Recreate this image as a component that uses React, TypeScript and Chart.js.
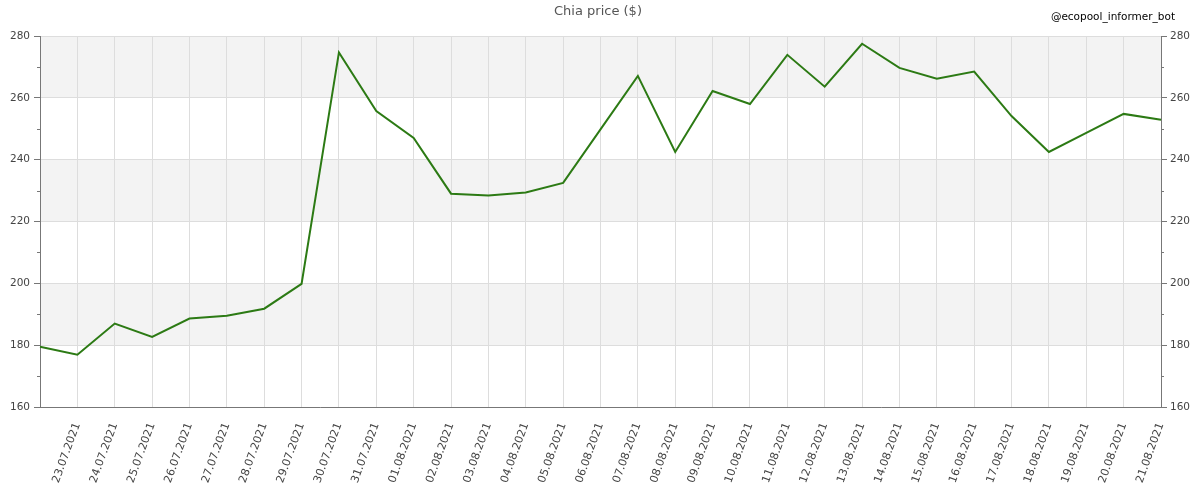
import React, { useEffect, useRef } from "react";
import { Chart, registerables } from "chart.js";

Chart.register(...registerables);

const dateLabels = [
  "22.07.2021", "23.07.2021", "24.07.2021", "25.07.2021", "26.07.2021", "27.07.2021",
  "28.07.2021", "29.07.2021", "30.07.2021", "31.07.2021", "01.08.2021", "02.08.2021",
  "03.08.2021", "04.08.2021", "05.08.2021", "06.08.2021", "07.08.2021", "08.08.2021",
  "09.08.2021", "10.08.2021", "11.08.2021", "12.08.2021", "13.08.2021", "14.08.2021",
  "15.08.2021", "16.08.2021", "17.08.2021", "18.08.2021", "19.08.2021", "20.08.2021",
  "21.08.2021",
];

const chiaPrice = [
  179.5, 176.9, 187.0, 182.7, 188.6, 189.5, 191.8, 199.8, 274.7, 255.7, 247.0, 229.0,
  228.4, 229.4, 232.5, 249.8, 267.1, 242.5, 262.2, 258.0, 273.9, 263.6, 277.5, 269.7,
  266.2, 268.5, 254.1, 242.5, 248.7, 254.8, 252.9,
];

const yMin = 160;
const yMax = 280;
const bandStarts = [180, 220, 260];
const minorTicks = [170, 190, 210, 230, 250, 270];
const chartTitle = "Chia price ($)";
const watermark = "@ecopool_informer_bot";

const FONT = "'DejaVu Sans', Verdana, sans-serif";

export default function App() {
  const ref = useRef<HTMLCanvasElement | null>(null);

  useEffect(() => {
    document.body.style.margin = "0";
    const canvas = ref.current;
    if (!canvas) return;

    const bandsPlugin = {
      id: "bands",
      beforeDraw(chart: any) {
        const { ctx, chartArea, scales } = chart;
        const y = scales.y;
        ctx.save();
        ctx.fillStyle = "#f3f3f3";
        for (const b of bandStarts) {
          const top = y.getPixelForValue(b + 20);
          const bot = y.getPixelForValue(b);
          ctx.fillRect(chartArea.left, top, chartArea.right - chartArea.left, bot - top);
        }
        ctx.restore();
      },
      afterDraw(chart: any) {
        const { ctx, chartArea, scales } = chart;
        ctx.save();
        // minor ticks
        ctx.strokeStyle = "#777";
        ctx.lineWidth = 1;
        ctx.beginPath();
        for (const v of minorTicks) {
          const py = Math.round(scales.y.getPixelForValue(v)) + 0.5;
          ctx.moveTo(chartArea.left - 3, py);
          ctx.lineTo(chartArea.left, py);
          ctx.moveTo(chartArea.right, py);
          ctx.lineTo(chartArea.right + 3, py);
        }
        ctx.stroke();
        ctx.fillStyle = "#555";
        ctx.font = `13px ${FONT}`;
        ctx.textAlign = "center";
        ctx.textBaseline = "middle";
        ctx.fillText(chartTitle, 598, 12);
        ctx.fillStyle = "#000";
        ctx.font = `10.5px ${FONT}`;
        ctx.textAlign = "right";
        ctx.fillText(watermark, 1175, 17);
        ctx.restore();
      },
    };

    const yScale = (position: "left" | "right") => ({
      type: "linear" as const,
      position,
      min: yMin,
      max: yMax,
      afterFit(scale: any) {
        scale.width = position === "left" ? 40 : 39;
      },
      ticks: {
        stepSize: 10,
        color: "#444",
        padding: position === "left" ? 4 : 3,
        font: { family: FONT, size: 10.5 },
        callback: (v: any) => (Number(v) % 20 === 0 ? String(v) : ""),
      },
      grid: {
        drawOnChartArea: position === "left",
        color: (c: any) => (c.tick && c.tick.value % 20 === 0 ? "#dddddd" : "rgba(0,0,0,0)"),
        tickColor: (c: any) => (c.tick && c.tick.value % 20 === 0 ? "#777" : "rgba(0,0,0,0)"),
        tickLength: 6,
      },
      border: { color: "#777", width: 1 },
    });

    const chart = new Chart(canvas, {
      type: "line",
      data: {
        labels: dateLabels,
        datasets: [
          {
            label: chartTitle,
            data: chiaPrice,
            borderColor: "#2c7a14",
            borderWidth: 2,
            pointRadius: 0,
            tension: 0,
            fill: false,
          },
        ],
      },
      options: {
        responsive: false,
        animation: false,
        layout: { padding: { top: 36, left: 0, right: 0, bottom: 0 } },
        plugins: {
          legend: { display: false },
          title: { display: false },
          tooltip: { enabled: false },
        },
        scales: {
          x: {
            type: "category",
            offset: false,
            afterFit(scale: any) {
              scale.height = 93;
            },
            ticks: {
              autoSkip: false,
              maxRotation: 70,
              minRotation: 70,
              color: "#444",
              padding: 14,
              font: { family: FONT, size: 11 },
              callback: (_v: any, i: number) => (i === 0 ? "" : dateLabels[i]),
            },
            grid: {
              color: "#dddddd",
              drawTicks: false,
              tickLength: 0,
            },
            border: { color: "#777", width: 1 },
          },
          y: yScale("left"),
          y2: yScale("right"),
        },
      },
      plugins: [bandsPlugin],
    });

    return () => chart.destroy();
  }, []);

  return (
    <div style={{ position: "absolute", left: 0, top: 0, width: 1200, height: 500 }}>
      <canvas ref={ref} width={1200} height={500} />
    </div>
  );
}
